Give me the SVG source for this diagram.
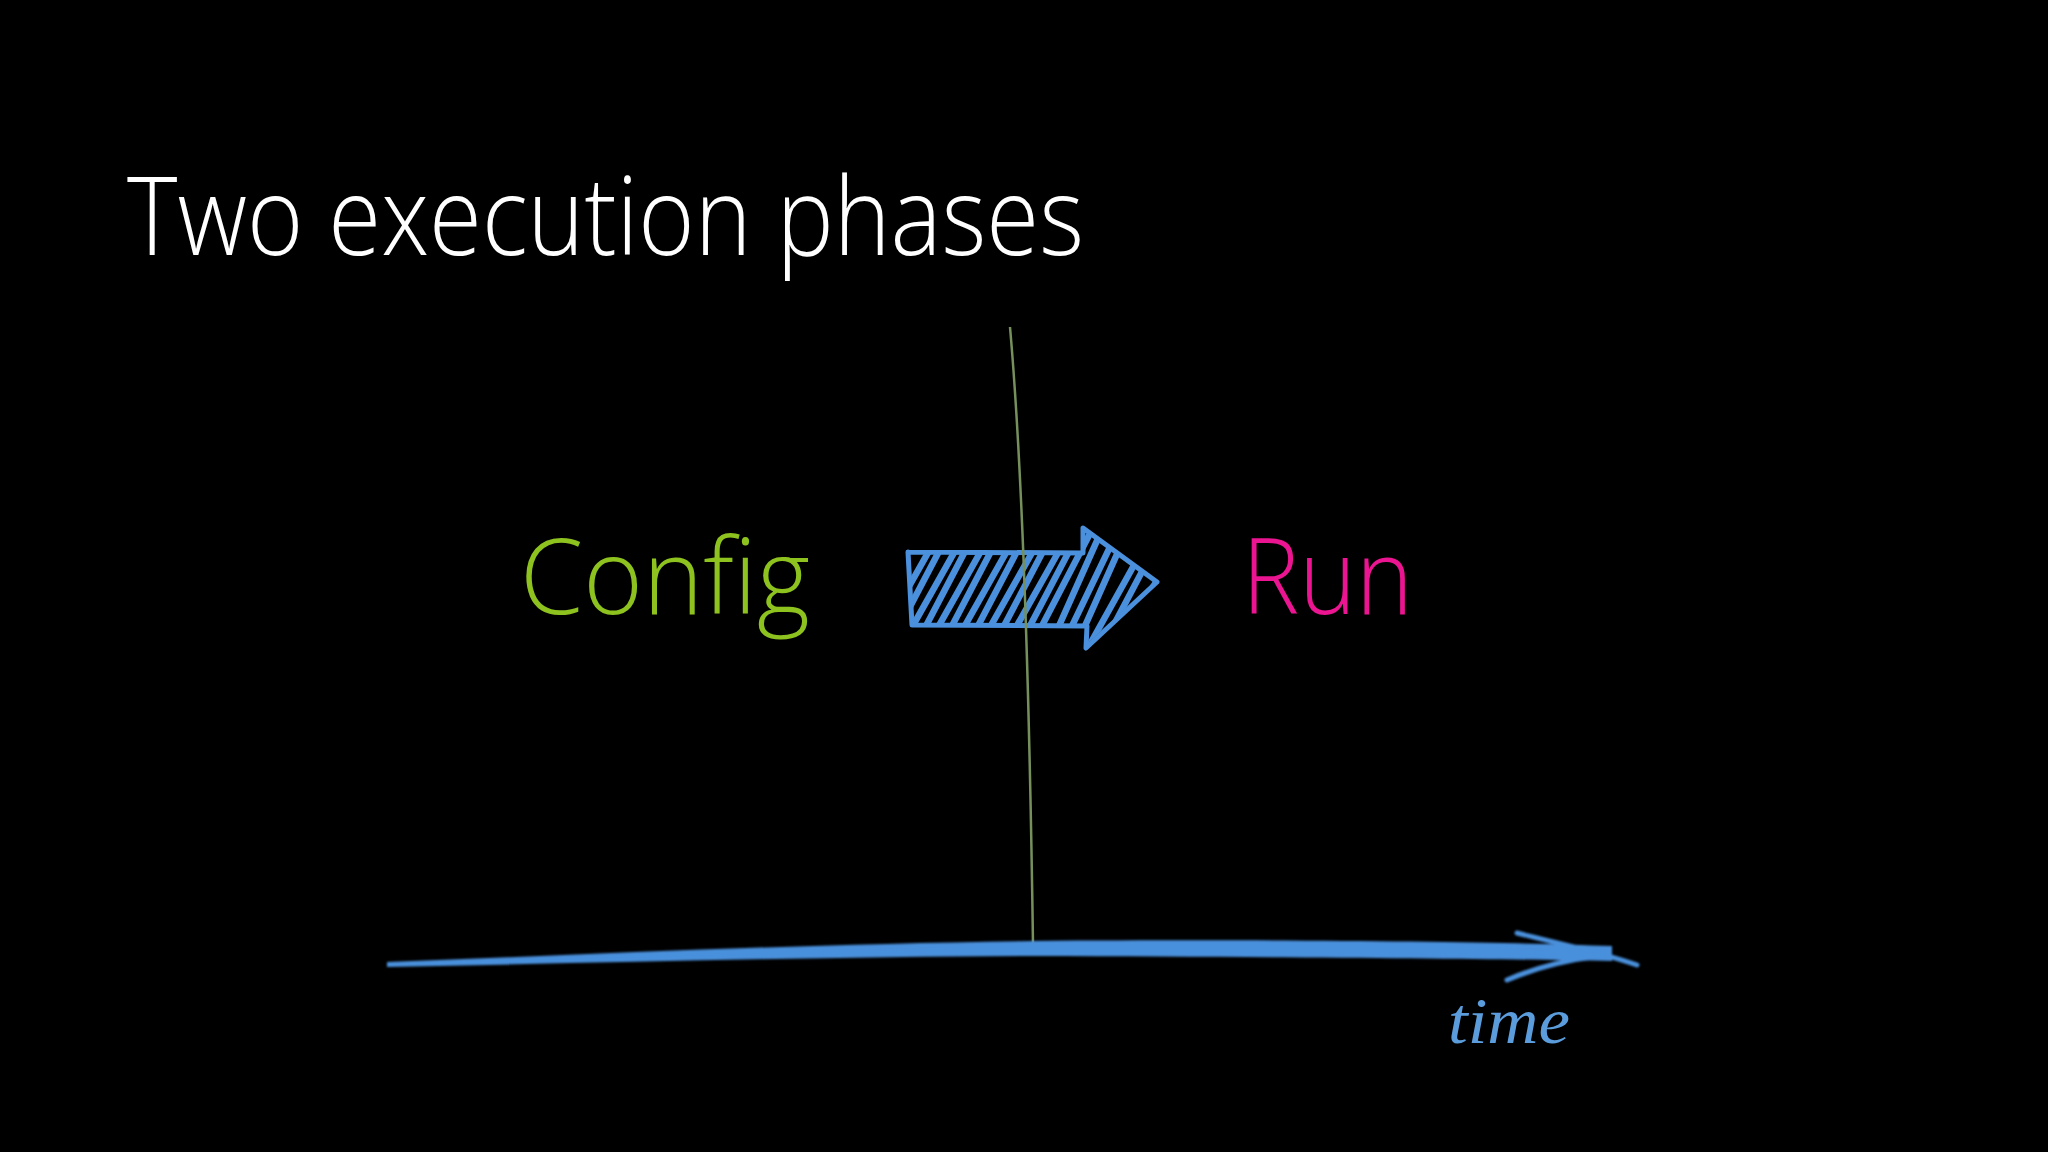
<svg xmlns="http://www.w3.org/2000/svg" width="2048" height="1152" viewBox="0 0 2048 1152">
  <style>
    .title { font-family: "Open Sans", "Liberation Sans", sans-serif; font-weight: 300; fill: #ffffff; }
    .phase { font-family: "Open Sans", "Liberation Sans", sans-serif; font-weight: 300; }
    .blue { stroke: #4a90dc; fill: none; stroke-linecap: round; stroke-linejoin: round; }
    .hand { font-family: "Liberation Serif", "DejaVu Serif", serif; font-style: italic; fill: #5b9ddc; }
  </style>
  <defs>
    <clipPath id="arrowClip">
      <path d="M910 554 L1084 554 L1084 530 L1155 582 L1086 645 L1086 624 L911 624 Z"/>
    </clipPath>
    <filter id="glow" x="-5%" y="-50%" width="110%" height="200%">
      <feGaussianBlur stdDeviation="1.2"/>
    </filter>
  </defs>

  <rect x="0" y="0" width="2048" height="1152" fill="#000000"/>

  <g id="title">
    <text class="title" x="127" y="255" font-size="108" textLength="957" lengthAdjust="spacingAndGlyphs">Two execution phases</text>
  </g>

  <g id="config">
    <text class="phase" x="520" y="614" font-size="106" fill="#8dc21f" textLength="290" lengthAdjust="spacingAndGlyphs">Config</text>
  </g>

  <g id="run">
    <text class="phase" x="1242" y="614" font-size="106" fill="#ec1591" textLength="171" lengthAdjust="spacingAndGlyphs">Run</text>
  </g>

  <g id="phase-arrow">
    <g clip-path="url(#arrowClip)">
      <path class="blue" stroke-width="6.5" d="M876 645 L938 535 L946 538 L890 645 L902 645 L964 535 L972 538 L916 645 L928 645 L990 535 L998 538 L942 645 L954 645 L1016 535 L1024 538 L968 645 L980 645 L1042 535 L1050 538 L994 645 L1006 645 L1068 535 L1076 538 L1020 645 L1032 645 L1096 522 L1104 525 L1046 655 L1058 655 L1122 522 L1130 525 L1072 655 L1084 655 L1148 540 L1156 545 L1098 655 L1110 655 L1170 560"/>
    </g>
    <path class="blue" stroke-width="5" d="M908 552 L1083 553 L1083 528 L1157 582 L1086 648 L1087 626 L912 625 L908 552"/>
  </g>

  <g id="connectors">
    <path d="M1010 327 Q1027 520 1033 944" fill="none" stroke="#76905c" stroke-width="2.5"/>
    <g id="timeline" filter="url(#glow)">
      <path fill="#4a90dc" d="M387 962 C600 954 800 944 1033 941 C1300 939 1500 942 1612 946 L1612 961 C1500 959 1300 957 1033 956 C800 957 600 963 387 967 Z"/>
      <path class="blue" stroke="#5a9fe2" stroke-width="5" d="M1517 933 C1560 944 1600 952 1637 965"/>
      <path class="blue" stroke="#5a9fe2" stroke-width="5" d="M1507 980 C1535 968 1565 960 1600 956"/>
    </g>
  </g>

  <g id="time-label">
    <text class="hand" x="1448" y="1043" font-size="66" textLength="122" lengthAdjust="spacingAndGlyphs">time</text>
  </g>
</svg>
